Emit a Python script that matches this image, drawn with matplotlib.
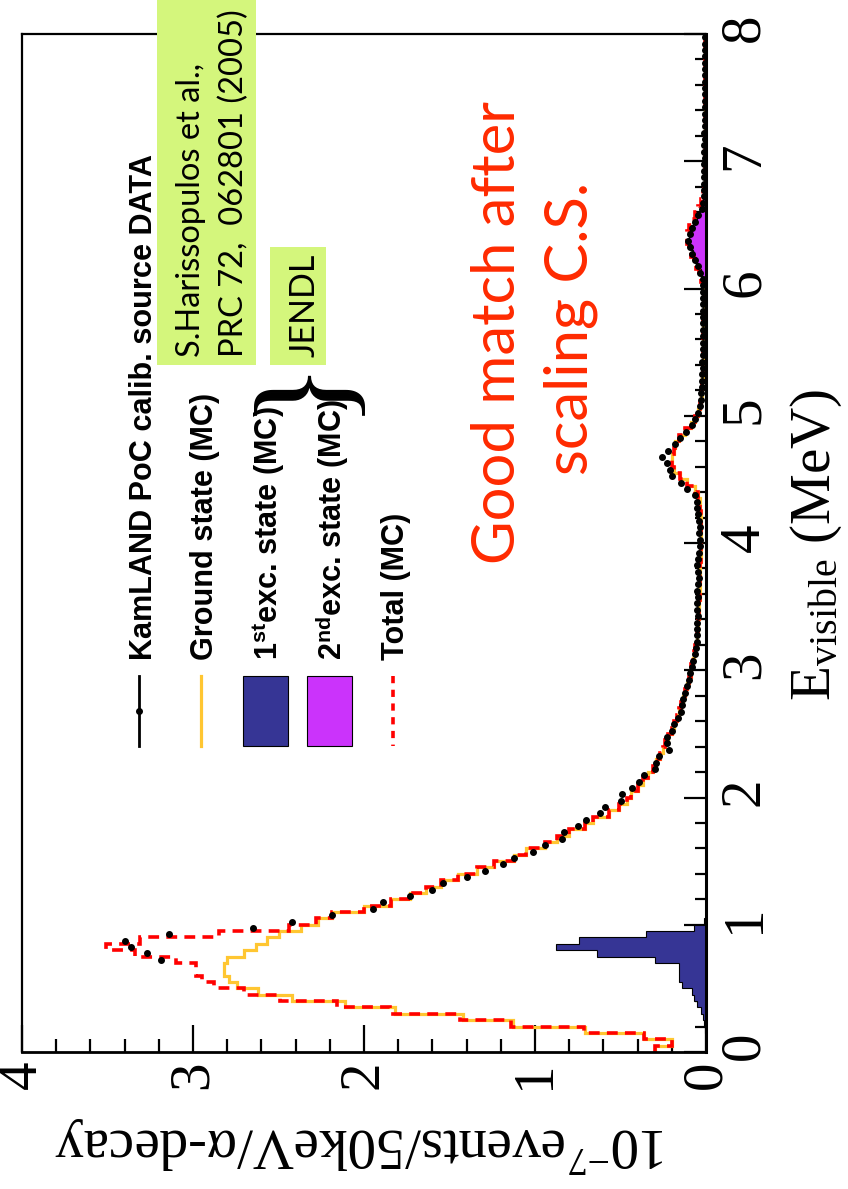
import numpy as np
import matplotlib
matplotlib.use("Agg")
import matplotlib.pyplot as plt
from matplotlib.patches import Rectangle
from matplotlib.lines import Line2D
from matplotlib.ticker import FixedLocator, MultipleLocator

# ---------------------------------------------------------------- data
bin_width = 0.05  # MeV

# ground state MC, 50 keV bins starting at 0 MeV
ground_state = [
    0.30, 0.20, 0.36, 0.71, 1.13, 1.42, 1.82, 2.11, 2.42, 2.62,
    2.74, 2.79, 2.82, 2.82, 2.80, 2.70, 2.63, 2.57, 2.50, 2.37,
    2.27, 2.19, 2.00, 1.84, 1.73, 1.64, 1.55, 1.45, 1.34, 1.24,
    1.12, 1.05, 0.94, 0.87, 0.80, 0.71, 0.66, 0.57, 0.51, 0.46,
    0.44, 0.40, 0.37, 0.34, 0.31, 0.29, 0.27, 0.25, 0.24, 0.22,
    0.20, 0.19, 0.17, 0.155, 0.145, 0.135, 0.12, 0.11, 0.10, 0.09,
    0.085, 0.075, 0.068, 0.062, 0.055, 0.05, 0.048, 0.045, 0.043, 0.04,
    0.04, 0.038, 0.036, 0.035, 0.035, 0.034, 0.033, 0.032, 0.032, 0.031,
    0.03, 0.03, 0.03, 0.03, 0.032, 0.035, 0.038, 0.045, 0.065, 0.11,
    0.15, 0.19, 0.20, 0.20, 0.19, 0.18, 0.16, 0.12, 0.09, 0.065,
    0.045, 0.035, 0.028, 0.025, 0.022, 0.021, 0.02, 0.019, 0.018, 0.018,
    0.017, 0.016, 0.016, 0.015, 0.015, 0.014, 0.014, 0.013, 0.013, 0.012,
    0.012, 0.012, 0.011, 0.011, 0.011, 0.010, 0.010, 0.010, 0.010, 0.009,
    0.009, 0.009, 0.009, 0.008, 0.008, 0.008, 0.008, 0.007, 0.007, 0.007,
    0.007, 0.007, 0.006, 0.006, 0.006, 0.006, 0.005, 0.005, 0.005, 0.005,
    0.005, 0.004, 0.004, 0.004, 0.004, 0.003, 0.003, 0.003, 0.003, 0.002,
]

# first excited state MC, 50 keV bins starting at 0 MeV
exc1_state = [
    0.0, 0.0, 0.0, 0.003, 0.01, 0.02, 0.03, 0.05, 0.07, 0.08,
    0.14, 0.16, 0.16, 0.16, 0.30, 0.64, 0.88, 0.74, 0.35, 0.07,
    0.01,
]

# second excited state MC, 50 keV bins starting at 6.0 MeV
exc2_start = 6.0
exc2_state = [
    0.005, 0.015, 0.03, 0.045, 0.06, 0.075, 0.09, 0.10,
    0.10, 0.09, 0.075, 0.055, 0.035, 0.02, 0.008, 0.003,
]

# KamLAND PoC calibration source data, 50 keV bins, first centre 0.725 MeV
data_first_center = 0.725
data_rate = [
    3.19, 3.27, 3.36, 3.40, 3.14, 2.65,
    2.42, 2.19, 1.95, 1.89, 1.73, 1.60, 1.54, 1.40, 1.29, 1.19,
    1.12, 1.01, 0.94, 0.84, 0.83, 0.75, 0.70, 0.62, 0.59, 0.50,
    0.49, 0.43, 0.39, 0.36, 0.30, 0.29, 0.275, 0.215, 0.23, 0.226,
    0.20, 0.19, 0.166, 0.148, 0.142, 0.136, 0.125, 0.11, 0.10, 0.094,
    0.084, 0.074, 0.064, 0.058, 0.055, 0.055, 0.051, 0.055, 0.045, 0.051,
    0.051, 0.048, 0.051, 0.045, 0.039, 0.045, 0.050, 0.045, 0.039, 0.035,
    0.035, 0.039, 0.035, 0.039, 0.045, 0.050, 0.055, 0.064, 0.113, 0.148,
    0.20, 0.21, 0.23, 0.26, 0.225, 0.18, 0.15, 0.117, 0.084, 0.064,
    0.045, 0.035, 0.030, 0.028, 0.025, 0.025, 0.022, 0.020, 0.022, 0.020,
    0.018, 0.020, 0.018, 0.016, 0.018, 0.015, 0.016, 0.015, 0.018, 0.016,
    0.015, 0.020, 0.035, 0.045, 0.064, 0.084, 0.094, 0.103, 0.094, 0.084,
    0.064, 0.045, 0.025, 0.015, 0.012, 0.010, 0.012, 0.010, 0.009, 0.010,
    0.008, 0.010, 0.009, 0.008, 0.009, 0.008, 0.007, 0.008, 0.007, 0.008,
    0.006, 0.007, 0.006, 0.007, 0.006, 0.006, 0.005, 0.006, 0.005, 0.005,
]

event_ticks = [0, 1, 2, 3, 4]
energy_ticks = [0, 1, 2, 3, 4, 5, 6, 7, 8]

legend_labels = [
    "KamLAND PoC calib. source DATA",
    "Ground state (MC)",
    "1$^{\\mathsf{st}}$exc. state (MC)",
    "2$^{\\mathsf{nd}}$exc. state (MC)",
    "Total (MC)",
]
reference_lines = ["S.Harissopulos et al.,", "PRC 72,  062801 (2005)"]
library_label = "JENDL"
note_lines = ["Good match after", "scaling C.S."]
energy_label = "E$_{\\mathrm{visible}}$ (MeV)"
rate_label = "10$^{\\mathrm{-7}}$events/50keV/\u03b1-decay"

# ---------------------------------------------------------------- derived arrays
ground = np.array(ground_state)
nbins = len(ground)
edges = np.arange(nbins + 1) * bin_width
exc1 = np.zeros(nbins)
exc1[:len(exc1_state)] = exc1_state
exc2 = np.zeros(nbins)
i2 = int(round(exc2_start / bin_width))
exc2[i2:i2 + len(exc2_state)] = exc2_state
total = ground + exc1 + exc2
data_E = data_first_center + bin_width * np.arange(len(data_rate))

# ---------------------------------------------------------------- style
ORANGE = "#ffc631"
RED = "#ff0000"
BLUE = "#363595"
PURPLE = "#cb33fb"
GREEN = "#d4f67c"
NOTE_RED = "#ff2a00"
SERIF = ["Liberation Serif", "DejaVu Serif"]
LEG_FONT = ["Liberation Sans Narrow", "Liberation Sans", "DejaVu Sans"]
HUMANIST = ["Lato", "Open Sans", "DejaVu Sans"]

plt.rcParams["mathtext.fontset"] = "custom"
plt.rcParams["mathtext.rm"] = "Liberation Serif"
plt.rcParams["mathtext.it"] = "Liberation Serif:italic"
plt.rcParams["mathtext.sf"] = "Liberation Sans:bold"

W, H, DPI = 848, 1189, 100
fig = plt.figure(figsize=(W / DPI, H / DPI), dpi=DPI)

# frame in pixels
L, R, T, B = 22, 706, 34, 1052
ax = fig.add_axes([L / W, 1 - B / H, (R - L) / W, (B - T) / H])
ax.set_xlim(4, 0)
ax.set_ylim(0, 8)

# histograms: energy runs up the page, rate runs right-to-left
ax.stairs(ground, edges, orientation="horizontal", baseline=None,
          color=ORANGE, lw=2.3, zorder=2)
n1 = len(exc1_state)
ax.stairs(exc1[:n1], edges[:n1 + 1], orientation="horizontal", baseline=0,
          fill=True, facecolor=BLUE, edgecolor="black", lw=0.8, zorder=2.2)
e2 = edges[i2:i2 + len(exc2_state) + 1]
ax.stairs(np.array(exc2_state), e2, orientation="horizontal", baseline=0,
          fill=True, facecolor=PURPLE, edgecolor="black", lw=0.8, zorder=2.2)
ax.stairs(total, edges, orientation="horizontal", baseline=None,
          color=RED, lw=2.6, ls=(0, (3.0, 2.0)), zorder=2.4)
ax.plot(data_rate, data_E, "o", color="black", ms=4.0, zorder=3)

for s in ax.spines.values():
    s.set_linewidth(1.6)
ax.spines["right"].set_linewidth(2.2)
ax.spines["bottom"].set_linewidth(2.0)

ax.xaxis.set_major_locator(FixedLocator(event_ticks))
ax.xaxis.set_minor_locator(MultipleLocator(0.2))
ax.yaxis.set_major_locator(FixedLocator(energy_ticks))
ax.yaxis.set_minor_locator(MultipleLocator(0.2))
ax.yaxis.tick_right()
ax.tick_params(axis="x", which="both", direction="in", bottom=True, top=False,
               width=1.6, colors="black")
ax.tick_params(axis="x", which="major", length=19.5, pad=6, labelsize=41,
               labelrotation=90, labelfontfamily="Liberation Serif")
ax.tick_params(axis="x", which="minor", length=9.5)
ax.tick_params(axis="y", which="both", direction="in", left=False, right=True,
               labelleft=False, labelright=True, width=1.6)
ax.tick_params(axis="y", which="major", length=16, pad=9, labelsize=41,
               labelrotation=90, labelfontfamily="Liberation Serif")
ax.tick_params(axis="y", which="minor", length=8)

# ---------------------------------------------------------------- overlay in pixel units
ov = fig.add_axes([0, 0, 1, 1], zorder=5)
ov.set_xlim(0, W)
ov.set_ylim(H, 0)
ov.axis("off")
ov.patch.set_alpha(0)
renderer = fig.canvas.get_renderer()


def fit(t, length, along="y"):
    bb = t.get_window_extent(renderer=renderer)
    size = bb.height if along == "y" else bb.width
    t.set_fontsize(t.get_fontsize() * length / size)


# legend keys
ov.add_line(Line2D([139, 139], [676, 746], color="black", lw=2.0))
ov.plot([139], [711], "o", color="black", ms=4)
ov.add_line(Line2D([201, 201], [676, 746], color=ORANGE, lw=2.3))
ov.add_patch(Rectangle((243, 676), 45, 70, facecolor=BLUE, edgecolor="black", lw=0.8))
ov.add_patch(Rectangle((307, 676), 45, 70, facecolor=PURPLE, edgecolor="black", lw=0.8))
ov.add_line(Line2D([393, 393], [676, 746], color=RED, lw=2.6, ls=(0, (2.0, 1.8))))

# legend text
leg_x = [152, 213, 278, 342, 404]
leg_txt = []
for x, s in zip(leg_x, legend_labels):
    leg_txt.append(ov.text(x, 660, s, rotation=90, rotation_mode="anchor",
                           ha="left", va="baseline", family=LEG_FONT,
                           fontweight="bold", fontsize=20))
fit(leg_txt[0], 505)
for t in leg_txt[1:]:
    t.set_fontsize(leg_txt[0].get_fontsize())

# brace grouping the two excited states
brace = ov.text(303, 383, "}", rotation=90, rotation_mode="anchor",
                ha="center", va="center", family=SERIF, fontsize=80)
fit(brace, 120, along="x")

# reference boxes
ov.add_patch(Rectangle((157, -2), 99, 367, facecolor=GREEN, edgecolor="none"))
ov.add_patch(Rectangle((270, 247), 56, 118, facecolor=GREEN, edgecolor="none"))
r1 = ov.text(200, 357, reference_lines[0], rotation=90, rotation_mode="anchor",
             ha="left", va="baseline", family=HUMANIST, fontsize=24)
r2 = ov.text(243, 357, reference_lines[1], rotation=90, rotation_mode="anchor",
             ha="left", va="baseline", family=HUMANIST, fontsize=24)
fit(r2, 347)
r1.set_fontsize(r2.get_fontsize())
jt = ov.text(315, 357, library_label, rotation=90, rotation_mode="anchor",
             ha="left", va="baseline", family=HUMANIST, fontsize=24)
fit(jt, 103)

# annotation
n1t = ov.text(515, 332, note_lines[0], rotation=90, rotation_mode="anchor",
              ha="center", va="baseline", family=HUMANIST, color=NOTE_RED, fontsize=40)
fit(n1t, 463)
n2t = ov.text(587, 328, note_lines[1], rotation=90, rotation_mode="anchor",
              ha="center", va="baseline", family=HUMANIST, color=NOTE_RED,
              fontsize=n1t.get_fontsize())

# axis titles
et = ov.text(830, 545, energy_label, rotation=90, rotation_mode="anchor",
             ha="center", va="baseline", family=SERIF, fontsize=40)
fit(et, 312)
rt = ov.text(361, 1128, rate_label, rotation=180, rotation_mode="anchor",
             ha="center", va="baseline", family=SERIF, fontsize=36)
fit(rt, 614, along="x")

fig.savefig("out.png", dpi=DPI)
